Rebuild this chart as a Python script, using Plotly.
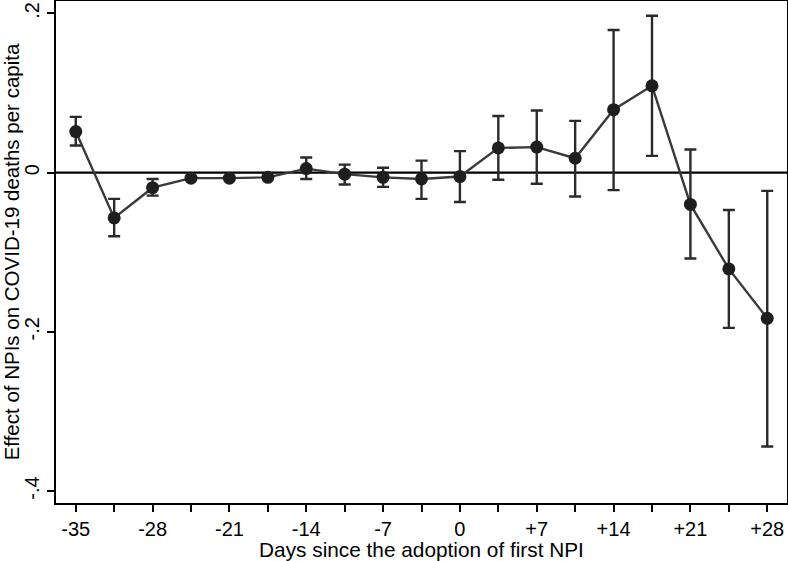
import plotly.graph_objects as go

days = [-35, -31.5, -28, -24.5, -21, -17.5, -14, -10.5, -7, -3.5, 0, 3.5, 7, 10.5, 14, 17.5, 21, 24.5, 28]
effect = [0.0515, -0.057, -0.019, -0.007, -0.007, -0.006, 0.005, -0.002, -0.006, -0.008, -0.005,
          0.031, 0.032, 0.018, 0.079, 0.109, -0.040, -0.121, -0.183]
ci_high = [0.070, -0.033, -0.008, -0.007, -0.007, -0.006, 0.019, 0.010, 0.006, 0.015, 0.027,
           0.071, 0.078, 0.065, 0.179, 0.197, 0.029, -0.047, -0.023]
ci_low = [0.034, -0.080, -0.029, -0.007, -0.007, -0.006, -0.008, -0.015, -0.018, -0.033, -0.037,
          -0.009, -0.014, -0.030, -0.022, 0.021, -0.108, -0.195, -0.344]

x_tickvals = days
x_ticktext = ["-35", "", "-28", "", "-21", "", "-14", "", "-7", "", "0", "", "+7", "", "+14", "", "+21", "", "+28"]
y_tickvals = [0.2, 0, -0.2, -0.4]
y_ticktext = [".2", "0", "-.2", "-.4"]

err_plus = [h - e for h, e in zip(ci_high, effect)]
err_minus = [e - l for e, l in zip(effect, ci_low)]
has_err = [abs(p) + abs(m) > 0.004 for p, m in zip(err_plus, err_minus)]
err_plus = [p if h else 0 for p, h in zip(err_plus, has_err)]
err_minus = [m if h else 0 for m, h in zip(err_minus, has_err)]

font_family = "Liberation Sans, Arial, sans-serif"

fig = go.Figure()
fig.add_trace(go.Scatter(
    x=days, y=effect, mode="lines+markers",
    line=dict(color="#3a3a3a", width=2.4),
    marker=dict(color="#1e1e1e", size=13),
    error_y=dict(type="data", symmetric=False, array=err_plus, arrayminus=err_minus,
                 color="#2a2a2a", thickness=2.4, width=6),
    showlegend=False,
    cliponaxis=False,
))

fig.add_hline(y=0, line=dict(color="black", width=2.2), layer="below")

fig.update_layout(
    width=788, height=561,
    margin=dict(l=56, r=1, t=1, b=58),
    paper_bgcolor="white", plot_bgcolor="white",
    font=dict(family=font_family, size=20, color="black"),
    xaxis=dict(
        range=[-36.8, 29.8], tickvals=x_tickvals, ticktext=x_ticktext, automargin=False,
        ticks="outside", ticklen=7, tickwidth=1.6, tickcolor="black",
        showline=True, linecolor="black", linewidth=2.2, mirror=True,
        showgrid=False, zeroline=False,
        title=dict(text="Days since the adoption of first NPI", standoff=2, font=dict(size=20.8)),
        tickfont=dict(size=20),
    ),
    yaxis=dict(
        range=[-0.415, 0.2155], tickvals=y_tickvals, ticktext=y_ticktext, tickangle=-90,
        automargin=False,
        ticks="outside", ticklen=7, tickwidth=1.6, tickcolor="black",
        showline=True, linecolor="black", linewidth=2.2, mirror=True,
        showgrid=False, zeroline=False,
        title=dict(text="Effect of NPIs on COVID-19 deaths per capita", standoff=4, font=dict(size=20.5)),
        tickfont=dict(size=20),
    ),
)

fig.write_html("out.html", config={"displayModeBar": False},
               post_script="document.body.style.margin='0px';")
